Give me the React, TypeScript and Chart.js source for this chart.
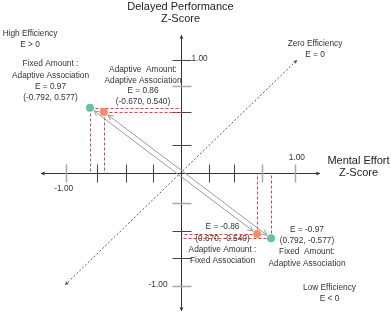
import React, { useEffect, useRef } from "react";
import { Chart, registerables } from "chart.js";

Chart.register(...registerables);

// ---- data ----
const nameLines: string[][] = [
  ["Fixed Amount :", "Adaptive Association"],
  ["Adaptive  Amount:", "Adaptive Association"],
  ["Adaptive Amount :", "Fixed Association"],
  ["Fixed  Amount:", "Adaptive Association"],
];
const mentalEffort = [-0.792, -0.67, 0.67, 0.792];
const delayedPerformance = [0.577, 0.54, -0.54, -0.577];
const efficiency = [0.97, 0.86, -0.86, -0.97];
const pointColorIndex = [0, 1, 1, 0];
// arrows connect point indices
const arrowPairs = [
  [0, 2],
  [1, 3],
];
const xTicks = [-1.0, -0.733, -0.474, -0.238, 0.249, 0.468, 0.713, 1.0];
const yTicks = [1.0, 0.769, 0.539, 0.248, -0.265, -0.513, -0.752, -1.0];
const xTickLabels = ["-1.00", "1.00"];
const yTickLabels = ["1.00", "-1.00"];
const zeroLine = [
  [-1.01, -0.99],
  [1.02, 1.0],
];
const axisTitleY = ["Delayed Performance", "Z-Score"];
const axisTitleX = ["Mental Effort", "Z-Score"];
const regionLabels = [
  ["High Efficiency", "E > 0"],
  ["Zero Efficiency", "E = 0"],
  ["Low Efficiency", "E < 0"],
];

// ---- styles ----
const COLORS = ["#66c2a5", "#fc8d62"];
const GRAY_X = [-1.0, 0.713, 1.0];
const GRAY_Y = [0.769, -0.265, -1.0];
const FONT = '"Liberation Sans", Arial, sans-serif';
const AX_MIN = -1.22;
const AX_MAX = 1.22;

function arrowHead(
  ctx: CanvasRenderingContext2D,
  x1: number,
  y1: number,
  x2: number,
  y2: number,
  size: number,
  filled: boolean
) {
  const a = Math.atan2(y2 - y1, x2 - x1);
  const s = filled ? 0.5 : 0.45;
  ctx.beginPath();
  ctx.moveTo(x2 - size * Math.cos(a - s), y2 - size * Math.sin(a - s));
  ctx.lineTo(x2, y2);
  ctx.lineTo(x2 - size * Math.cos(a + s), y2 - size * Math.sin(a + s));
  if (filled) {
    ctx.closePath();
    ctx.fill();
  } else ctx.stroke();
}

const overlay = {
  id: "overlay",
  beforeDatasetsDraw(chart: any) {
    const { ctx } = chart;
    const xs = chart.scales.x;
    const ys = chart.scales.y;
    const X = (v: number) => xs.getPixelForValue(v);
    const Y = (v: number) => ys.getPixelForValue(v);
    const ox = Math.round(X(0)) + 0.5;
    const oy = Math.round(Y(0)) + 0.5;
    ctx.save();

    // axes
    ctx.strokeStyle = "#333";
    ctx.fillStyle = "#333";
    ctx.lineWidth = 1;
    const xl = X(AX_MIN),
      xr = X(AX_MAX),
      yt = Y(AX_MAX),
      yb = Y(AX_MIN);
    ctx.beginPath();
    ctx.moveTo(xl, oy);
    ctx.lineTo(xr, oy);
    ctx.moveTo(ox, yt);
    ctx.lineTo(ox, yb);
    ctx.stroke();
    arrowHead(ctx, ox - 10, oy, xl, oy, 4, true);
    arrowHead(ctx, ox, oy, xr, oy, 4, true);
    arrowHead(ctx, ox, oy, ox, yt, 4, true);
    arrowHead(ctx, ox, oy, ox, yb, 4, true);

    // ticks
    xTicks.forEach((v) => {
      const gray = GRAY_X.includes(v);
      ctx.strokeStyle = gray ? "#a8a8a8" : "#444";
      ctx.lineWidth = gray ? 1.5 : 1;
      const px = Math.round(X(v)) + 0.5;
      ctx.beginPath();
      ctx.moveTo(px, oy - 9);
      ctx.lineTo(px, oy + 9);
      ctx.stroke();
    });
    yTicks.forEach((v) => {
      const gray = GRAY_Y.includes(v);
      ctx.strokeStyle = gray ? "#a8a8a8" : "#444";
      ctx.lineWidth = gray ? 1.5 : 1;
      const py = Math.round(Y(v)) + 0.5;
      ctx.beginPath();
      ctx.moveTo(ox - 9, py);
      ctx.lineTo(ox + 10, py);
      ctx.stroke();
    });

    // zero-efficiency dotted diagonal
    ctx.strokeStyle = "#555";
    ctx.fillStyle = "#555";
    ctx.lineWidth = 1;
    const d1x = X(zeroLine[0][0]),
      d1y = Y(zeroLine[0][1]),
      d2x = X(zeroLine[1][0]),
      d2y = Y(zeroLine[1][1]);
    ctx.setLineDash([2, 2]);
    ctx.beginPath();
    ctx.moveTo(d1x, d1y);
    ctx.lineTo(d2x, d2y);
    ctx.stroke();
    ctx.setLineDash([]);
    arrowHead(ctx, d1x, d1y, d2x, d2y, 4, true);
    arrowHead(ctx, d2x, d2y, d1x, d1y, 4, true);

    // red dashed projection lines
    ctx.strokeStyle = "#c0504d";
    ctx.lineWidth = 1;
    ctx.setLineDash([3, 2]);
    mentalEffort.forEach((mx, i) => {
      const px = Math.round(X(mx)) + 0.5;
      const py = Math.round(Y(delayedPerformance[i])) + 0.5;
      ctx.beginPath();
      ctx.moveTo(px, py);
      ctx.lineTo(ox, py);
      ctx.moveTo(px, py);
      ctx.lineTo(px, oy);
      ctx.stroke();
    });
    ctx.setLineDash([]);

    // gray double-headed arrows
    ctx.strokeStyle = "#9a9a9a";
    ctx.lineWidth = 1;
    arrowPairs.forEach(([a, b]) => {
      const ax = X(mentalEffort[a]),
        ay = Y(delayedPerformance[a]);
      const bx = X(mentalEffort[b]),
        by = Y(delayedPerformance[b]);
      const len = Math.hypot(bx - ax, by - ay);
      const ux = (bx - ax) / len,
        uy = (by - ay) / len;
      const sx = ax + ux * 5,
        sy = ay + uy * 5,
        ex = bx - ux * 5,
        ey = by - uy * 5;
      ctx.beginPath();
      ctx.moveTo(sx, sy);
      ctx.lineTo(ex, ey);
      ctx.stroke();
      arrowHead(ctx, sx, sy, ex, ey, 6, false);
      arrowHead(ctx, ex, ey, sx, sy, 6, false);
    });
    ctx.restore();
  },
  afterDatasetsDraw(chart: any) {
    const { ctx } = chart;
    const xs = chart.scales.x;
    const ys = chart.scales.y;
    const X = (v: number) => xs.getPixelForValue(v);
    const Y = (v: number) => ys.getPixelForValue(v);
    const ox = X(0);
    const oy = Y(0);
    ctx.save();
    ctx.textAlign = "center";
    ctx.textBaseline = "middle";

    const text = (s: string, x: number, y: number, size: number, align: CanvasTextAlign = "center", color = "#333") => {
      ctx.font = `${size}px ${FONT}`;
      ctx.fillStyle = color;
      ctx.textAlign = align;
      ctx.fillText(s, x, y);
    };

    // axis titles
    text(axisTitleY[0], ox, oy - 166, 11, "center", "#222");
    text(axisTitleY[1], ox, oy - 154, 11, "center", "#222");
    text(axisTitleX[0], ox + 178, oy - 12, 11, "center", "#222");
    text(axisTitleX[1], ox + 178, oy, 11, "center", "#222");

    // tick labels
    text(xTickLabels[0], X(-1) - 2.5, oy + 16, 8.3);
    text(xTickLabels[1], X(1) + 2, oy - 15, 8.3);
    text(yTickLabels[0], ox + 11, Y(1) - 1, 8.3, "left");
    text(yTickLabels[1], ox - 13, Y(-1) - 1, 8.3, "right");

    // region labels
    text(regionLabels[0][0], ox - 150.5, oy - 139, 8.3);
    text(regionLabels[0][1], ox - 150.5, oy - 128, 8.3);
    text(regionLabels[1][0], ox + 134.5, oy - 129, 8.3);
    text(regionLabels[1][1], ox + 134.5, oy - 118, 8.3);
    text(regionLabels[2][0], ox + 149, oy + 115, 8.3);
    text(regionLabels[2][1], ox + 149, oy + 126, 8.3);

    // point labels
    const blocks = [
      { cx: ox - 130, y0: oy - 109, lh: 11.3, nameFirst: true },
      { cx: ox - 37.5, y0: oy - 103.5, lh: 10.8, nameFirst: true },
      { cx: ox + 42, y0: oy + 54, lh: 11.4, nameFirst: false },
      { cx: ox + 126.5, y0: oy + 56.5, lh: 11.3, nameFirst: false },
    ];
    blocks.forEach((b, i) => {
      const e = `E = ${efficiency[i].toFixed(2)}`;
      const c = `(${mentalEffort[i].toFixed(3)}, ${delayedPerformance[i].toFixed(3)})`;
      const lines = b.nameFirst ? [...nameLines[i], e, c] : [e, c, ...nameLines[i]];
      lines.forEach((s, k) => text(s, b.cx, b.y0 + k * b.lh, 8.3));
    });
    ctx.restore();
  },
};

export default function App() {
  const ref = useRef<HTMLCanvasElement | null>(null);
  useEffect(() => {
    if (!ref.current) return;
    const green = [0, 3].map((i) => ({ x: mentalEffort[i], y: delayedPerformance[i] }));
    const orange = [1, 2].map((i) => ({ x: mentalEffort[i], y: delayedPerformance[i] }));
    const chart = new Chart(ref.current, {
      type: "scatter",
      data: {
        datasets: [
          { label: "E = ±0.97", data: green, backgroundColor: COLORS[pointColorIndex[0]], pointRadius: 4, pointBorderWidth: 0 },
          { label: "E = ±0.86", data: orange, backgroundColor: COLORS[pointColorIndex[1]], pointRadius: 4, pointBorderWidth: 0 },
        ],
      },
      options: {
        animation: false,
        responsive: false,
        maintainAspectRatio: false,
        devicePixelRatio: 1,
        layout: { padding: { left: 41, right: 71, top: 35, bottom: 4 } },
        plugins: { legend: { display: false }, tooltip: { enabled: false } },
        scales: {
          x: { type: "linear", min: AX_MIN, max: AX_MAX, display: false },
          y: { type: "linear", min: AX_MIN, max: AX_MAX, display: false },
        },
      },
      plugins: [overlay],
    });
    return () => chart.destroy();
  }, []);
  return (
    <div style={{ position: "absolute", left: 0, top: 0, width: 391, height: 315, background: "#fff" }}>
      <canvas ref={ref} width={391} height={315} style={{ width: 391, height: 315, display: "block" }} />
    </div>
  );
}
